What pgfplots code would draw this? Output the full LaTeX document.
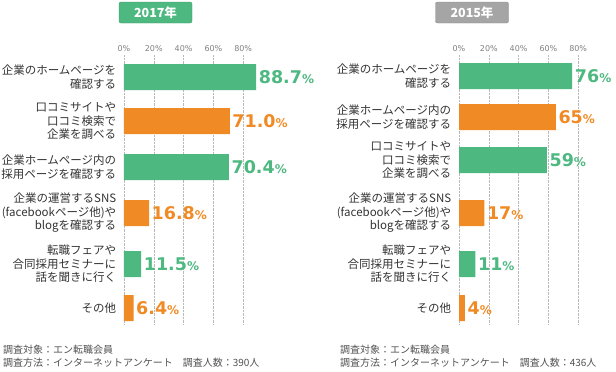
\documentclass[border=0pt]{standalone}
\usepackage{fontspec}
\setmainfont{Noto Sans CJK JP}
\newfontfamily\numfont{DejaVu Sans}
\usepackage{pgfplots}
\pgfplotsset{compat=1.18}
\definecolor{cgreen}{RGB}{77,184,128}
\definecolor{corange}{RGB}{240,138,36}
\definecolor{cgray}{RGB}{165,165,165}
\definecolor{ctext}{RGB}{51,51,51}
\pgfplotsset{
  panel/.style={
    xbar, scale only axis, width=149pt, height=270pt,
    xmin=0, xmax=100, ymin=55, ymax=325, y dir=reverse,
    clip=false,
    font=\fontsize{11.5}{13.5}\selectfont,
    axis line style={draw=none},
    major tick style={draw=none},
    xtick={0,20,40,60,80},
    xticklabels={0\%,20\%,40\%,60\%,80\%},
    xticklabel pos=upper,
    xticklabel style={font=\numfont\fontsize{8}{9}\selectfont, text=gray},
    xmajorgrids, major grid style={densely dotted, gray!55},
    yticklabel style={align=right, font=\fontsize{11.5}{13.5}\selectfont, text=ctext},
  },
  gbar/.style={draw=none, fill=cgreen, bar width=26pt, bar shift=0pt,
    every node near coord/.append style={text=cgreen, font=\numfont\bfseries\fontsize{17.5}{17.5}\selectfont, inner sep=2.5pt}},
  obar/.style={draw=none, fill=corange, bar width=26pt, bar shift=0pt,
    every node near coord/.append style={text=corange, font=\numfont\bfseries\fontsize{17.5}{17.5}\selectfont, inner sep=2.5pt}},
}
\begin{document}
\begin{tikzpicture}
\useasboundingbox (0,0) rectangle (616pt,-372pt);
% titles
\node[fill=cgreen, draw=cgreen!85!black, rounded corners=2pt, minimum width=73pt, minimum height=21pt, text=white, font=\bfseries\fontsize{12.5}{12.5}\selectfont, inner sep=0pt] at (155.5pt,-12.5pt) {2017年};
\node[fill=cgray, draw=cgray!85!black, rounded corners=2pt, minimum width=73pt, minimum height=21pt, text=white, font=\bfseries\fontsize{12.5}{12.5}\selectfont, inner sep=0pt] at (472pt,-12.5pt) {2015年};

\begin{axis}[panel, at={(124pt,-55pt)}, anchor=north west,
  ytick={77,121,167,213,264,308},
  yticklabels={{企業のホームページを\\確認する},{口コミサイトや\\口コミ検索で\\企業を調べる},{企業ホームページ内の\\採用ページを確認する},{企業の運営するSNS\\(facebookページ他)や\\blogを確認する},{転職フェアや\\合同採用セミナーに\\話を聞きに行く},{その他}},
  nodes near coords={\pgfmathprintnumber[fixed,fixed zerofill,precision=1,assume math mode=true]{\pgfplotspointmeta}{\fontsize{12}{12}\selectfont\%}},
]
\addplot[gbar] coordinates {(88.7,77) (70.4,167) (11.5,264)};
\addplot[obar] coordinates {(71.0,121) (16.8,213) (6.4,308)};
\end{axis}

\begin{axis}[panel, at={(459pt,-55pt)}, anchor=north west,
  ytick={76,117,160,213,264,308},
  yticklabels={{企業のホームページを\\確認する},{企業ホームページ内の\\採用ページを確認する},{口コミサイトや\\口コミ検索で\\企業を調べる},{企業の運営するSNS\\(facebookページ他)や\\blogを確認する},{転職フェアや\\合同採用セミナーに\\話を聞きに行く},{その他}},
  nodes near coords={\pgfmathprintnumber[fixed,precision=0,assume math mode=true]{\pgfplotspointmeta}{\fontsize{12}{12}\selectfont\%}},
]
\addplot[gbar] coordinates {(76,76) (59,160) (11,264)};
\addplot[obar] coordinates {(65,117) (17,213) (4,308)};
\end{axis}

\node[anchor=north west, font=\fontsize{10}{13}\selectfont, text=ctext!85, align=left, inner sep=0pt] at (3pt,-345pt) {調査対象：エン転職会員\\調査方法：インターネットアンケート　調査人数：390人};
\node[anchor=north west, font=\fontsize{10}{13}\selectfont, text=ctext!85, align=left, inner sep=0pt] at (340pt,-345pt) {調査対象：エン転職会員\\調査方法：インターネットアンケート　調査人数：436人};
\end{tikzpicture}
\end{document}
